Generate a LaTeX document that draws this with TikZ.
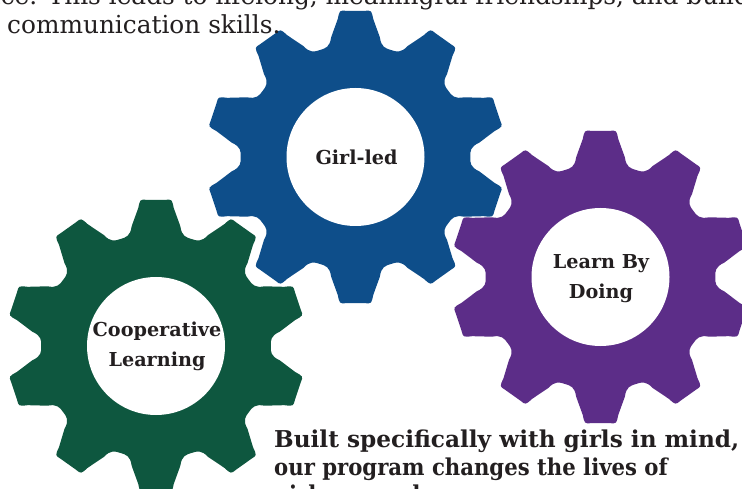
\documentclass[tikz,border=0pt]{standalone}
\usepackage{graphicx}
\usepackage{fontspec}
\setmainfont{DejaVu Serif}
\definecolor{inkc}{HTML}{231F20}
\definecolor{gearblue}{HTML}{0E4E8A}
\definecolor{geargreen}{HTML}{0E573F}
\definecolor{gearpurple}{HTML}{5C2D88}
\newcommand{\gearpath}{%
  (0:112.5)
  \foreach \a in {18,54,...,342}{
    .. controls (\a-15:112.5) and (\a-12.8:113) .. (\a-11.3:122)
    -- (\a-7.2:139) .. controls (\a-6.1:147.5) .. (\a-3.6:146.5)
    -- (\a+3.6:146.5) .. controls (\a+6.1:147.5) .. (\a+7.2:139)
    -- (\a+11.3:122) .. controls (\a+12.8:113) and (\a+15:112.5) .. (\a+18:112.5)
  } -- cycle}
\tikzset{
  labeltext/.style={font=\bfseries\fontsize{19.2}{30}\selectfont,text=inkc,align=center,inner sep=0pt},
  bodytext/.style={font=\fontsize{24.8}{29}\selectfont,text=inkc,anchor=base west,inner sep=0pt},
  headtext/.style={font=\bfseries\fontsize{23.2}{29}\selectfont,text=inkc,anchor=base west,inner sep=0pt},
  gearbody/.style={xscale=1.02}
}
\begin{document}
\begin{tikzpicture}[x=1pt,y=1pt]
\clip (0,0) rectangle (742,488);
\fill[white] (0,0) rectangle (742,488);
\begin{scope}[shift={(355.5,331)}]
\fill[gearblue,gearbody] \gearpath;
\fill[white] (0,0) circle (69);
\end{scope}
\begin{scope}[shift={(156,142)}]
\fill[geargreen,gearbody] \gearpath;
\fill[white] (0,0) circle (69);
\end{scope}
\begin{scope}[shift={(600.5,211)}]
\fill[gearpurple,gearbody] \gearpath;
\fill[white] (0,0) circle (69);
\end{scope}
\node[bodytext] (t0) at (-30,483.5) {ence. This leads to lifelong, meaningful friendships, and build};
\node[bodytext] (t1) at (7,454.5) {communication skills.};
\node[labeltext] (n1) at (356.5,330.5) {Girl-led};
\node[labeltext] (n2) at (157,141.5) {Cooperative\\Learning};
\node[labeltext] (n3) at (601,209) {Learn By\\Doing};
\node[headtext] (h1) at (274,41) {Built specifically with girls in mind,};
\node[headtext] (h2) at (274,12.3) {\scalebox{0.914}[1]{our program changes the lives of}};
\node[headtext] (h3) at (274,-14) {\scalebox{0.914}[1]{girls around}};
\end{tikzpicture}
\end{document}
